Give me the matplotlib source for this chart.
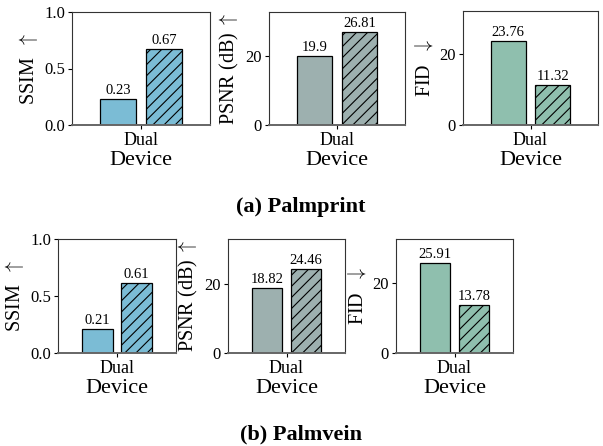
import matplotlib
matplotlib.use("Agg")
import matplotlib.pyplot as plt

plt.rcParams["font.family"] = ["Liberation Serif", "DejaVu Serif"]
plt.rcParams["mathtext.fontset"] = "cm"
plt.rcParams["hatch.linewidth"] = 0.8

# ─── Data ─────────────────────────────────────────────────────────────────────
metrics = [r"SSIM  $\uparrow$", r"PSNR (dB) $\uparrow$", r"FID  $\downarrow$"]
metric_colors = ["#7bbcd5", "#9db0af", "#8fbfae"]
metric_yticks = [[0.0, 0.5, 1.0], [0, 20], [0, 20]]
metric_ticklabels = [["0.0", "0.5", "1.0"], ["0", "20"], ["0", "20"]]
device = "Dual"

palmprint_plain = [0.23, 19.9, 23.76]
palmprint_hatched = [0.67, 26.81, 11.32]
palmvein_plain = [0.21, 18.82, 25.91]
palmvein_hatched = [0.61, 24.46, 13.78]

palmprint_ylim = [1.0, 32.7, 32.3]
palmvein_ylim = [1.0, 33.2, 32.7]

captions = ["(a) Palmprint", "(b) Palmvein"]

# ─── Layout (pixels) ──────────────────────────────────────────────────────────
W, H = 603, 446
row_rects = [
    [(72, 12, 138, 113), (269, 12, 136, 113), (463, 11, 135, 114)],
    [(58, 239, 118, 114), (228, 239, 117, 114), (396, 239, 117, 114)],
]
caption_y = [207, 434]

fig = plt.figure(figsize=(W / 100, H / 100), dpi=100)


def px_axes(x, y, w, h):
    return fig.add_axes([x / W, 1 - (y + h) / H, w / W, h / H])


def draw_panel(ax, plain, hatched, ylim, color, label, yticks, yticklabels):
    width, off = 0.52, 0.33
    bars = ax.bar([-off, off], [plain, hatched], width=width, color=color,
                  edgecolor="black", linewidth=0.9)
    bars[1].set_hatch("///")
    for b, v in zip(bars, [plain, hatched]):
        ax.annotate(f"{v:g}", (b.get_x() + b.get_width() / 2, v),
                    xytext=(0, 1.5), textcoords="offset points",
                    ha="center", va="bottom", fontsize=10.5)
    ax.set_xlim(-1, 1)
    ax.set_ylim(0, ylim)
    ax.set_xticks([0])
    ax.set_xticklabels([device], fontsize=13)
    ax.set_yticks(yticks)
    ax.set_yticklabels(yticklabels, fontsize=12)
    ax.set_xlabel("Device", fontsize=16, labelpad=1.5)
    ax.set_ylabel(label, fontsize=14.5, labelpad=3)
    ax.tick_params(axis="both", length=3, width=0.8, pad=2)
    for side in ["top", "left", "right"]:
        ax.spines[side].set_color("#333333")
        ax.spines[side].set_linewidth(0.8)
    ax.spines["bottom"].set_color("#666666")
    ax.spines["bottom"].set_linewidth(1.4)


rows = [
    (palmprint_plain, palmprint_hatched, palmprint_ylim),
    (palmvein_plain, palmvein_hatched, palmvein_ylim),
]
for r, (plain, hatched, ylims) in enumerate(rows):
    for i in range(3):
        ax = px_axes(*row_rects[r][i])
        draw_panel(ax, plain[i], hatched[i], ylims[i], metric_colors[i],
                   metrics[i], metric_yticks[i], metric_ticklabels[i])
    fig.text(301 / W, 1 - caption_y[r] / H, captions[r], ha="center",
             va="center", fontsize=16, fontweight="bold")

fig.savefig("out.png", dpi=100)
